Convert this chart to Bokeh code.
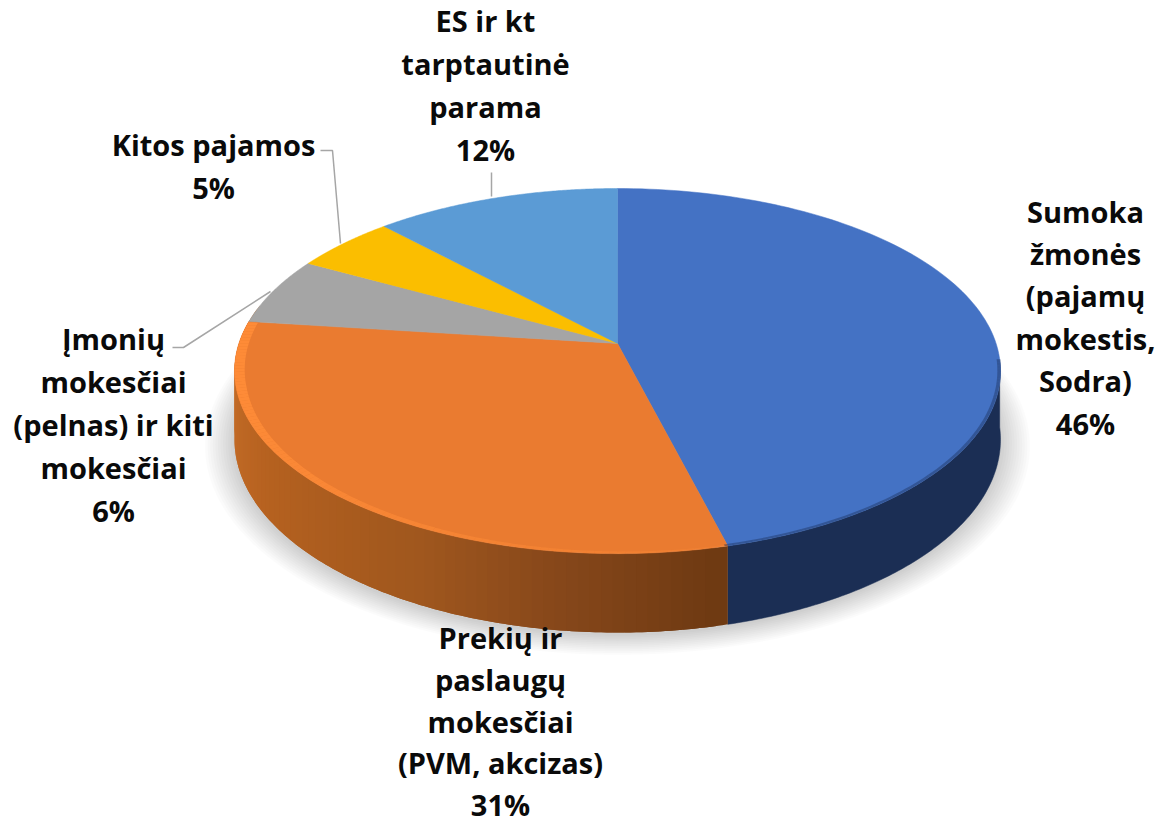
import numpy as np
from bokeh.plotting import figure
from bokeh.models import ColumnDataSource
from bokeh.core.properties import value
from bokeh.embed import file_html
from bokeh.resources import INLINE

# ---- data -------------------------------------------------------------
shares = [46, 31, 6, 5, 12]
top_colors = ["#4472C4", "#EA7B30", "#A5A5A5", "#FBBE00", "#5B9BD5"]
label_lines = [
    ["Sumoka", "žmonės", "(pajamų", "mokestis,", "Sodra)", "46%"],
    ["Prekių ir", "paslaugų", "mokesčiai", "(PVM, akcizas)", "31%"],
    ["Įmonių", "mokesčiai", "(pelnas) ir kiti", "mokesčiai", "6%"],
    ["Kitos pajamos", "5%"],
    ["ES ir kt", "tarptautinė", "parama", "12%"],
]
label_x = [1085, 500, 113, 213, 485]
label_first_y = [210.5, 637, 337.5, 143.5, 19.5]
label_step = [42.4, 41.8, 43, 43, 43]
leader_x = [[320, 332, 340], [172, 183, 270], [491, 491]]
leader_y = [[150, 150, 243], [347, 347, 291], [172, 196]]

# ---- projection of the tilted disc -------------------------------------
CX, CY = 617.0, 343.0
A, B, K, DEPTH = 378.6, 178.4, 0.151, 67.0


def rim(theta_deg, r=1.0, z=0.0):
    t = np.radians(theta_deg)
    u, v = r * np.sin(t), r * np.cos(t)
    d = 1 + K * v
    return CX + A * u / d, CY - B * v / d + z / d


def mix(c1, c2, f):
    a = [int(c1[i:i + 2], 16) for i in (1, 3, 5)]
    b = [int(c2[i:i + 2], 16) for i in (1, 3, 5)]
    return "#%02x%02x%02x" % tuple(round(x + (y - x) * f) for x, y in zip(a, b))


def gradient(stops, t):
    for (t0, c0), (t1, c1) in zip(stops, stops[1:]):
        if t0 <= t <= t1:
            return mix(c0, c1, (t - t0) / (t1 - t0))
    return stops[-1][1]


p = figure(width=1161, height=825, x_range=(0, 1161), y_range=(825, 0),
           output_backend="svg", toolbar_location=None,
           min_border=0, outline_line_color=None, background_fill_color="white")
p.axis.visible = False
p.grid.visible = False

cum = np.cumsum([0] + shares) / sum(shares) * 360.0

# soft shadow under the disc
ts = np.linspace(0, 360, 241)
for i in range(12):
    r = 1.075 - i * 0.0065
    x, y = rim(ts, r, DEPTH + 2)
    p.patch(x, y, fill_color="#000000", fill_alpha=0.016, line_color=None)

# side wall: blue part in one piece, orange part in overlapping shaded strips
tt = np.linspace(95.0, cum[1], 120)
x1, y1 = rim(tt)
x2, y2 = rim(tt[::-1], 1.0, DEPTH)
p.patch(np.r_[x1, x2], np.r_[y1, y2], fill_color="#1B2E54", line_color="#1B2E54", line_width=0.5)

orange_stops = [(165.6, "#6E3A12"), (185, "#85461A"), (205, "#A0571E"),
                (235, "#B5611F"), (262, "#C56D28"), (280, "#C56D28")]
wx, wy, wc = [], [], []
edges = np.arange(cum[1], 280.0, 1.5)
for t0 in edges[::-1]:
    t1 = t0 + 3.0
    tt = np.linspace(t0, t1, 5)
    x1, y1 = rim(tt)
    x2, y2 = rim(tt[::-1], 1.0, DEPTH)
    wx.append(np.r_[x1, x2]); wy.append(np.r_[y1, y2])
    wc.append(gradient(orange_stops, t0 + 0.75))
p.patches(wx, wy, fill_color=wc, line_color=None)

# top face
for i in range(len(shares)):
    tt = np.linspace(cum[i], cum[i + 1], 120)
    x, y = rim(tt)
    x = np.r_[CX, x]
    y = np.r_[CY, y]
    p.patch(x, y, fill_color=top_colors[i], line_color=top_colors[i], line_width=0.5)

# bevel around the front of the rim
bx, by, bc, ba = [], [], [], []
for t0 in np.arange(95.0, 277.0, 1.0):
    t1 = min(t0 + 1.0, cum[2] if t0 < cum[2] else 360)
    tm = (t0 + t1) / 2
    tt = np.array([t0, t1])
    if tm < cum[1]:
        edge, inner, width = "#1D3360", 0.992, 0.45
    else:
        f = np.clip((tm - cum[1]) / 90.0, 0, 1)
        inner = 1 - (0.006 + 0.020 * f)
        edge, width = "#FF8C38", 0.25 + 0.7 * f
    x1, y1 = rim(tt, inner)
    x2, y2 = rim(tt[::-1], 1.0)
    bx.append(np.r_[x1, x2]); by.append(np.r_[y1, y2])
    bc.append(edge); ba.append(width)
p.patches(bx, by, fill_color=bc, fill_alpha=ba, line_color=None)

# leader lines
for lx, ly in zip(leader_x, leader_y):
    p.line(lx, ly, line_color="#A6A6A6", line_width=1.5)

# labels
tx, ty, tt_ = [], [], []
for lines, x0, y0, step in zip(label_lines, label_x, label_first_y, label_step):
    for j, s in enumerate(lines):
        tx.append(x0); ty.append(y0 + j * step); tt_.append(s)
src = ColumnDataSource(dict(x=tx, y=ty, text=tt_))
p.text("x", "y", text="text", source=src, text_font=value("Open Sans"),
       text_font_style="bold", text_font_size="29px", text_color="#0A0A0A",
       text_align="center", text_baseline="middle")

open("out.html", "w").write(file_html(p, INLINE))
